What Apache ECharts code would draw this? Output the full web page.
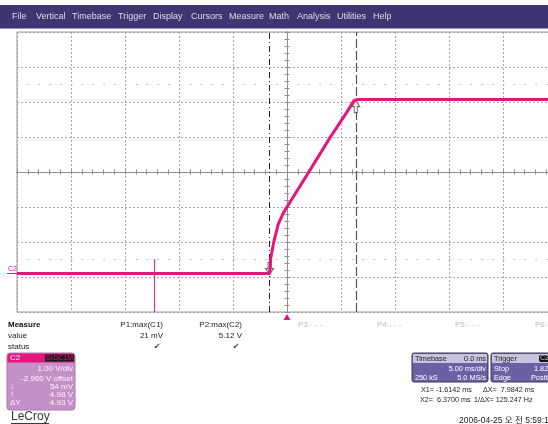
<!DOCTYPE html>
<html><head><meta charset="utf-8">
<script src="https://cdn.jsdelivr.net/npm/echarts@6/dist/echarts.min.js"></script>
<style>html,body{margin:0;padding:0;background:#fff}#c{width:548px;height:424px}</style>
</head><body><div id="c"></div>
<script>
// ---- data ----
const menuItems = ['File','Vertical','Timebase','Trigger','Display','Cursors','Measure','Math','Analysis','Utilities','Help'];
const timeRange = [-25, 25];          // ms, 5 ms/div
const voltRange = [-1.04, 6.96];      // V, 1 V/div, offset -2.960 V
const divRange = [-4, 4];
// C2 waveform (time ms, volts)
const traceTime = [-25, -18, -12.4, -12.1, -6, -1.6142, -1.5, -1.2, -0.8, -0.4, 0, 2, 4, 5.5, 6.2, 6.5, 12, 25];
const traceVolt = [0.06, 0.06, 0.06, 0.06, 0.06, 0.06, 0.5, 1.0, 1.48, 1.75, 1.96, 2.95, 3.95, 4.65, 5.0, 5.03, 5.03, 5.03];
const spikeTime = [-12.26, -12.26];
const spikeVolt = [0.47, -1.04];
const cursorTime = [-1.6142, 6.37];
const cursorVolt = [0.06, 5.03];
const refLevelVolt = [5.46, 0.46];
const measureNames = ['Measure', 'value', 'status'];
const measureParams = ['P1:max(C1)', 'P2:max(C2)'];
const measureValues = ['21 mV', '5.12 V'];
const emptyParams = ['P3:- - -', 'P4:- - -', 'P5:- - -', 'P6:- -'];
const chRows = ['1.00 V/div', '-2.960 V offset', '54 mV', '4.98 V', '4.93 V'];
const chRowTags = ['', '', '\u2193', '\u2191', '\u0394Y'];
const cursorText = ['X1= -1.6142 ms', '\u0394X=  7.9842 ms', 'X2=  6.3700 ms', '1/\u0394X= 125.247 Hz'];
const dateText = '2006-04-25 \uC624 \uC804 5:59:17';

const PINK = '#e5167b';
const FONT = "8px 'Liberation Sans', Arial, sans-serif";
const FONT_S = "7.3px 'Liberation Sans', Arial, sans-serif";

const zip = (a, b) => a.map((v, i) => [v, b[i]]);
function T(x, y, text, o) {
  o = o || {};
  return { type: 'text', x: x, y: y, z: 100, style: Object.assign({
    text: text, font: o.font || FONT, fill: o.fill || '#222',
    align: o.align || 'left', textAlign: o.align || 'left',
    verticalAlign: 'middle', textVerticalAlign: 'middle'
  }, o.extra || {}) };
}
function R(x, y, w, h, fill, stroke, r) {
  return { type: 'rect', z: 90, shape: { x: x, y: y, width: w, height: h, r: r || 0 },
    style: { fill: fill, stroke: stroke || null, lineWidth: stroke ? 1 : 0 } };
}

const graphics = [];
// menu bar
graphics.push(R(0, 5, 548, 23, '#3e3572'));
graphics.push({ type: 'line', z: 91, shape: { x1: 0, y1: 28.5, x2: 548, y2: 28.5 }, style: { stroke: '#9590c0', lineWidth: 1 } });
const menuX = [12, 36, 72, 118, 153, 191, 229, 269, 297, 337, 373];
menuItems.forEach((m, i) => graphics.push(T(menuX[i], 17, m, { fill: '#dcdce6', font: "9px 'Liberation Sans', Arial, sans-serif" })));
// channel marker
graphics.push(T(8, 269.5, 'C2', { fill: PINK, font: "7px 'Liberation Sans', Arial, sans-serif" }));
graphics.push({ type: 'line', z: 91, shape: { x1: 7, y1: 273.5, x2: 17, y2: 273.5 }, style: { stroke: PINK, lineWidth: 1 } });
// measure table
measureNames.forEach((n, i) => graphics.push(T(8, 325 + i * 11, n, i === 0 ? { font: "bold 8px 'Liberation Sans', Arial, sans-serif", fill: '#111' } : { fill: '#222' })));
const measureRight = [163, 242];
measureParams.forEach((p, i) => {
  graphics.push(T(measureRight[i], 325, p, { align: 'right' }));
  graphics.push(T(measureRight[i], 336, measureValues[i], { align: 'right' }));
  graphics.push(T(measureRight[i] - 6, 347, '\u2714', { align: 'center', fill: '#444', font: "8px 'DejaVu Sans', sans-serif" }));
});
const emptyX = [298, 377, 455, 535];
emptyParams.forEach((p, i) => graphics.push(T(emptyX[i], 325, p, { fill: '#bbbbbb' })));
// C2 channel box
graphics.push(R(7, 353, 68, 57, '#c590c7', '#a77aab', 3));
graphics.push(R(7.5, 353.5, 67, 9, PINK, null, [3, 3, 0, 0]));
graphics.push(T(10, 358, 'C2', { fill: '#fff' }));
graphics.push(T(45, 358, 'Sel', { fill: PINK, font: "7px 'Liberation Sans', Arial, sans-serif", extra: { backgroundColor: '#1b1b1b', padding: [0, 1] } }));
graphics.push(T(74, 358, 'DC1M', { align: 'right', fill: PINK, font: "7px 'Liberation Sans', Arial, sans-serif", extra: { backgroundColor: '#1b1b1b', padding: [0, 1] } }));
const chRowY = [369, 378.5, 387, 395, 403];
chRows.forEach((r, i) => {
  graphics.push(T(73, chRowY[i], r, { align: 'right', fill: '#fbf3fb' }));
  if (chRowTags[i]) graphics.push(T(10, chRowY[i], chRowTags[i], { fill: '#fbf3fb' }));
});
// LeCroy logo
graphics.push(T(11, 416.5, 'LeCroy', { fill: '#3a3a3a', font: "12px 'Liberation Sans', Arial, sans-serif" }));
graphics.push({ type: 'line', z: 91, shape: { x1: 11, y1: 423.5, x2: 49, y2: 423.5 }, style: { stroke: '#3a3a3a', lineWidth: 1 } });
// Timebase box
graphics.push(R(412, 353, 76, 29, '#6a60a5', '#3d3a55', 2));
graphics.push(R(413, 354, 74, 9, '#c8c4dd'));
graphics.push(T(415, 358.5, 'Timebase', { fill: '#1a1a2a', font: FONT_S }));
graphics.push(T(486, 358.5, '0.0 ms', { align: 'right', fill: '#1a1a2a', font: FONT_S }));
graphics.push(T(486, 368.5, '5.00 ms/div', { align: 'right', fill: '#fff', font: FONT_S }));
graphics.push(T(415, 377.5, '250 kS', { fill: '#fff', font: FONT_S }));
graphics.push(T(486, 377.5, '5.0 MS/s', { align: 'right', fill: '#fff', font: FONT_S }));
// Trigger box
graphics.push(R(491, 353, 72, 29, '#6a60a5', '#3d3a55', 2));
graphics.push(R(492, 354, 70, 9, '#c8c4dd'));
graphics.push(T(494, 358.5, 'Trigger', { fill: '#1a1a2a', font: FONT_S }));
graphics.push(T(539, 358.5, 'C2', { fill: '#ddd', font: "7px 'Liberation Sans', Arial, sans-serif", extra: { backgroundColor: '#111', padding: [0, 1], borderRadius: 2 } }));
graphics.push(T(494, 368.5, 'Stop', { fill: '#fff', font: FONT_S }));
graphics.push(T(534, 368.5, '1.82 V', { fill: '#fff', font: FONT_S }));
graphics.push(T(494, 377.5, 'Edge', { fill: '#fff', font: FONT_S }));
graphics.push(T(531, 377.5, 'Positive', { fill: '#fff', font: FONT_S }));
// cursor readout
const FONT_R = "7.2px 'Liberation Sans', Arial, sans-serif";
graphics.push(T(421, 390, cursorText[0], { font: FONT_R }));
graphics.push(T(483, 390, cursorText[1], { font: FONT_R }));
graphics.push(T(420, 400, cursorText[2], { font: FONT_R }));
graphics.push(T(474, 400, cursorText[3], { font: FONT_R }));
graphics.push(T(459, 421, dateText, { font: "8.5px 'Liberation Sans', 'Noto Sans CJK KR', sans-serif" }));

const GRIDC = '#8e8e8e';
function xAx(pos, split) {
  return { type: 'value', min: timeRange[0], max: timeRange[1], interval: 5, position: pos,
    axisLine: { show: true, onZero: true, onZeroAxisIndex: 1, lineStyle: { color: GRIDC, width: 1 } },
    axisTick: { show: true, inside: true, length: 2.5, lineStyle: { color: GRIDC } },
    minorTick: { show: true, splitNumber: 5, length: 2.5, lineStyle: { color: GRIDC } },
    axisLabel: { show: false },
    splitLine: { show: split, lineStyle: { color: '#a6a6a6', type: [2, 2], width: 1 } } };
}
function yAx(pos, split) {
  return { type: 'value', min: divRange[0], max: divRange[1], interval: 1, position: pos,
    axisLine: { show: true, onZero: true, onZeroAxisIndex: 0, lineStyle: { color: GRIDC, width: 1 } },
    axisTick: { show: true, inside: true, length: 2.5, lineStyle: { color: GRIDC } },
    minorTick: { show: true, splitNumber: 5, length: 2.5, lineStyle: { color: GRIDC } },
    axisLabel: { show: false },
    splitLine: { show: split, lineStyle: { color: '#a6a6a6', type: [2, 2], width: 1 } } };
}

const downArrow = 'path://M3,0 L7,0 L7,6 L10,6 L5,12 L0,6 L3,6 Z';
const upArrow = 'path://M5,0 L10,6 L7,6 L7,12 L3,12 L3,6 L0,6 Z';

const option = {
  animation: false,
  backgroundColor: '#ffffff',
  graphic: graphics,
  grid: { left: 17, top: 32, width: 540, height: 280, show: true, borderColor: '#9a9a9a', borderWidth: 1,
    backgroundColor: 'transparent', containLabel: false, outerBoundsMode: 'none' },
  xAxis: [xAx('bottom', true), xAx('top', false)],
  yAxis: [
    { type: 'value', min: voltRange[0], max: voltRange[1], show: false, position: 'left', splitLine: { show: false } },
    yAx('left', true),
    yAx('right', false)
  ],
  series: [
    {
      type: 'line', xAxisIndex: 0, yAxisIndex: 0, data: zip(traceTime, traceVolt),
      symbol: 'none', z: 5, lineStyle: { color: PINK, width: 3, join: 'round' },
      markLine: {
        silent: true, symbol: 'none', label: { show: false }, animation: false,
        data: [
          { xAxis: cursorTime[0], lineStyle: { color: '#222', width: 1, type: [6, 3, 1, 3] } },
          { xAxis: cursorTime[1], lineStyle: { color: '#555', width: 1.2, type: [9, 3] } },
          { yAxis: refLevelVolt[0], lineStyle: { color: '#b4b4b4', width: 1, type: [1.5, 9.3] } },
          { yAxis: refLevelVolt[1], lineStyle: { color: '#b4b4b4', width: 1, type: [1.5, 9.3] } }
        ]
      },
      markPoint: {
        silent: true, label: { show: false }, animation: false,
        data: [
          { coord: [cursorTime[0], cursorVolt[0]], symbol: downArrow, symbolSize: [8, 12], symbolOffset: [0, -5],
            itemStyle: { color: '#eeeeee', borderColor: '#666', borderWidth: 1 } },
          { coord: [cursorTime[1], cursorVolt[1]], symbol: upArrow, symbolSize: [8, 12], symbolOffset: [0, 7],
            itemStyle: { color: '#eeeeee', borderColor: '#666', borderWidth: 1 } },
          { coord: [0, voltRange[0]], symbol: 'triangle', symbolSize: [7, 6], symbolOffset: [0, 5],
            itemStyle: { color: PINK } }
        ]
      }
    },
    {
      type: 'line', xAxisIndex: 0, yAxisIndex: 0, data: zip(spikeTime, spikeVolt),
      symbol: 'none', z: 4, lineStyle: { color: PINK, width: 1 }
    }
  ]
};
const chart = echarts.init(document.getElementById('c'), null, { renderer: 'canvas' });
chart.setOption(option);
</script></body></html>
